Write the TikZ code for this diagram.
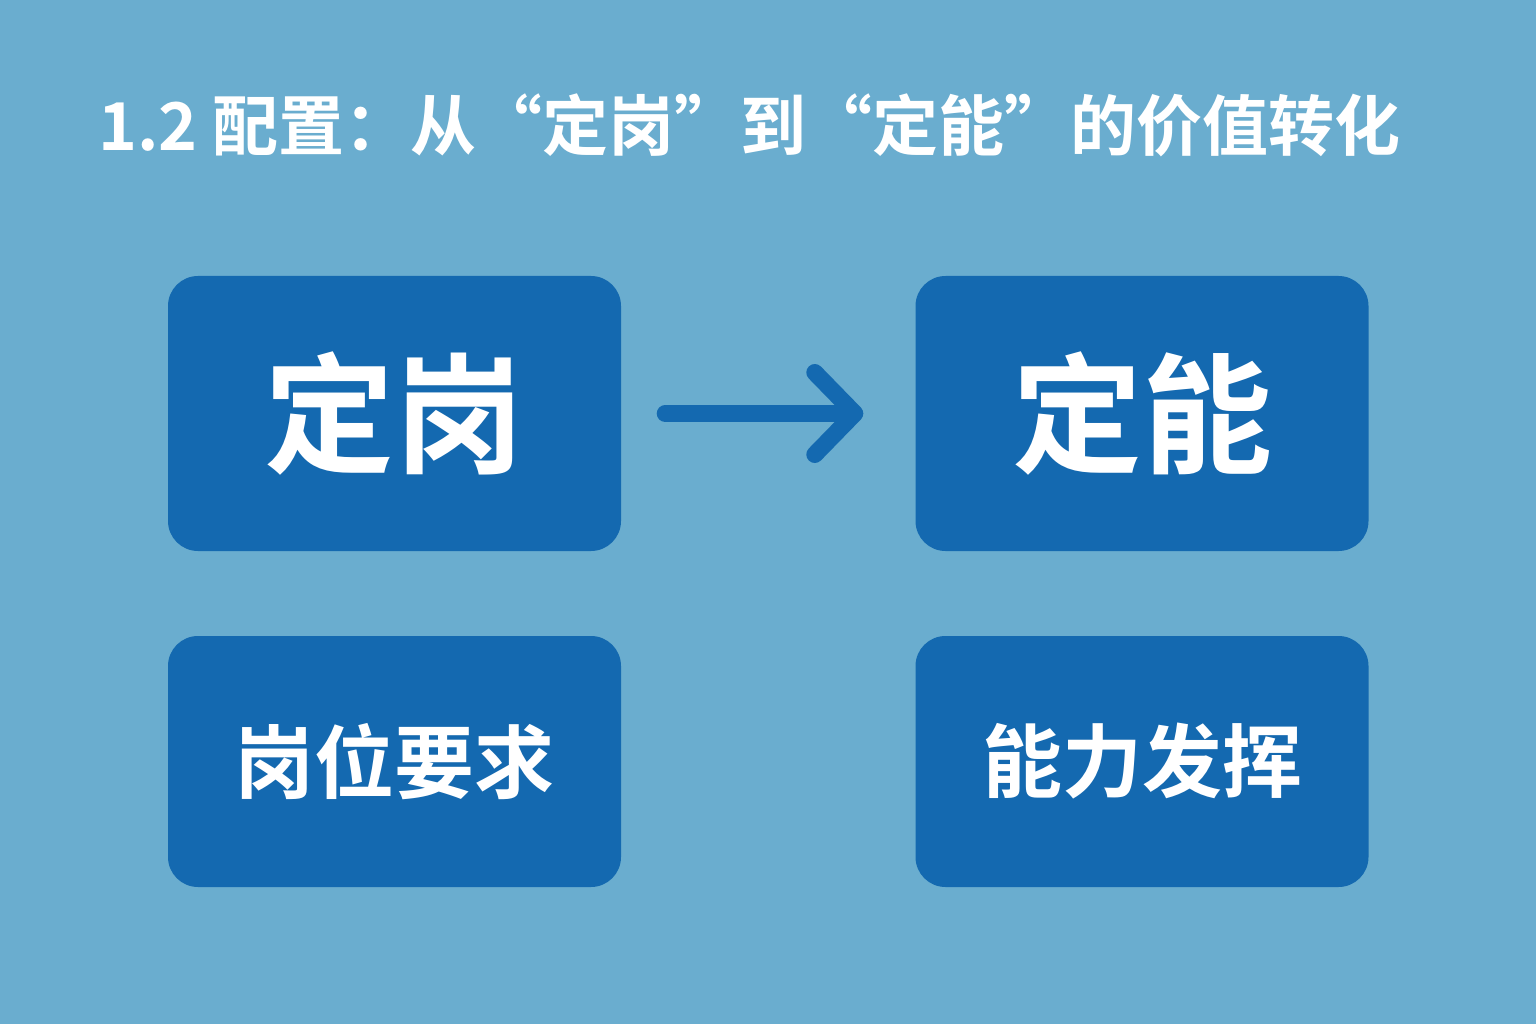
\documentclass[tikz,border=0pt]{standalone}
\usepackage{fontspec}
\setmainfont{Noto Sans CJK SC Bold}
\usetikzlibrary{arrows.meta}
\definecolor{bg}{HTML}{6AADCF}
\definecolor{boxc}{HTML}{1469B0}
\tikzset{
  box/.style={fill=boxc, rounded corners=30pt, text=white, inner sep=0pt, minimum width=453pt},
  topbox/.style={box, minimum height=275pt, font=\fontsize{130}{140}\selectfont},
  lowbox/.style={box, minimum height=251pt, font=\fontsize{80}{90}\selectfont},
}
\begin{document}
\begin{tikzpicture}[x=1pt,y=-1pt]
\fill[bg] (0,0) rectangle (1536,1024);
\useasboundingbox (0,0) rectangle (1536,1024);
\node[anchor=west, text=white, font=\fontsize{66}{70}\selectfont, inner sep=0pt] (title) at (98,125) {1.2 配置：从“定岗”到“定能”的价值转化};
\node[topbox] (a) at (394.5,413.5) {定岗};
\node[topbox] (b) at (1142,413.5) {定能};
\node[lowbox] (c) at (394.5,761.5) {岗位要求};
\node[lowbox] (d) at (1142,761.5) {能力发挥};
\draw[boxc, line width=17pt, line cap=round, shorten <=44pt, shorten >=52pt,
  -{Straight Barb[length=40pt, width=82pt, round, line cap=round]}] (a) -- (b);
\end{tikzpicture}
\end{document}
